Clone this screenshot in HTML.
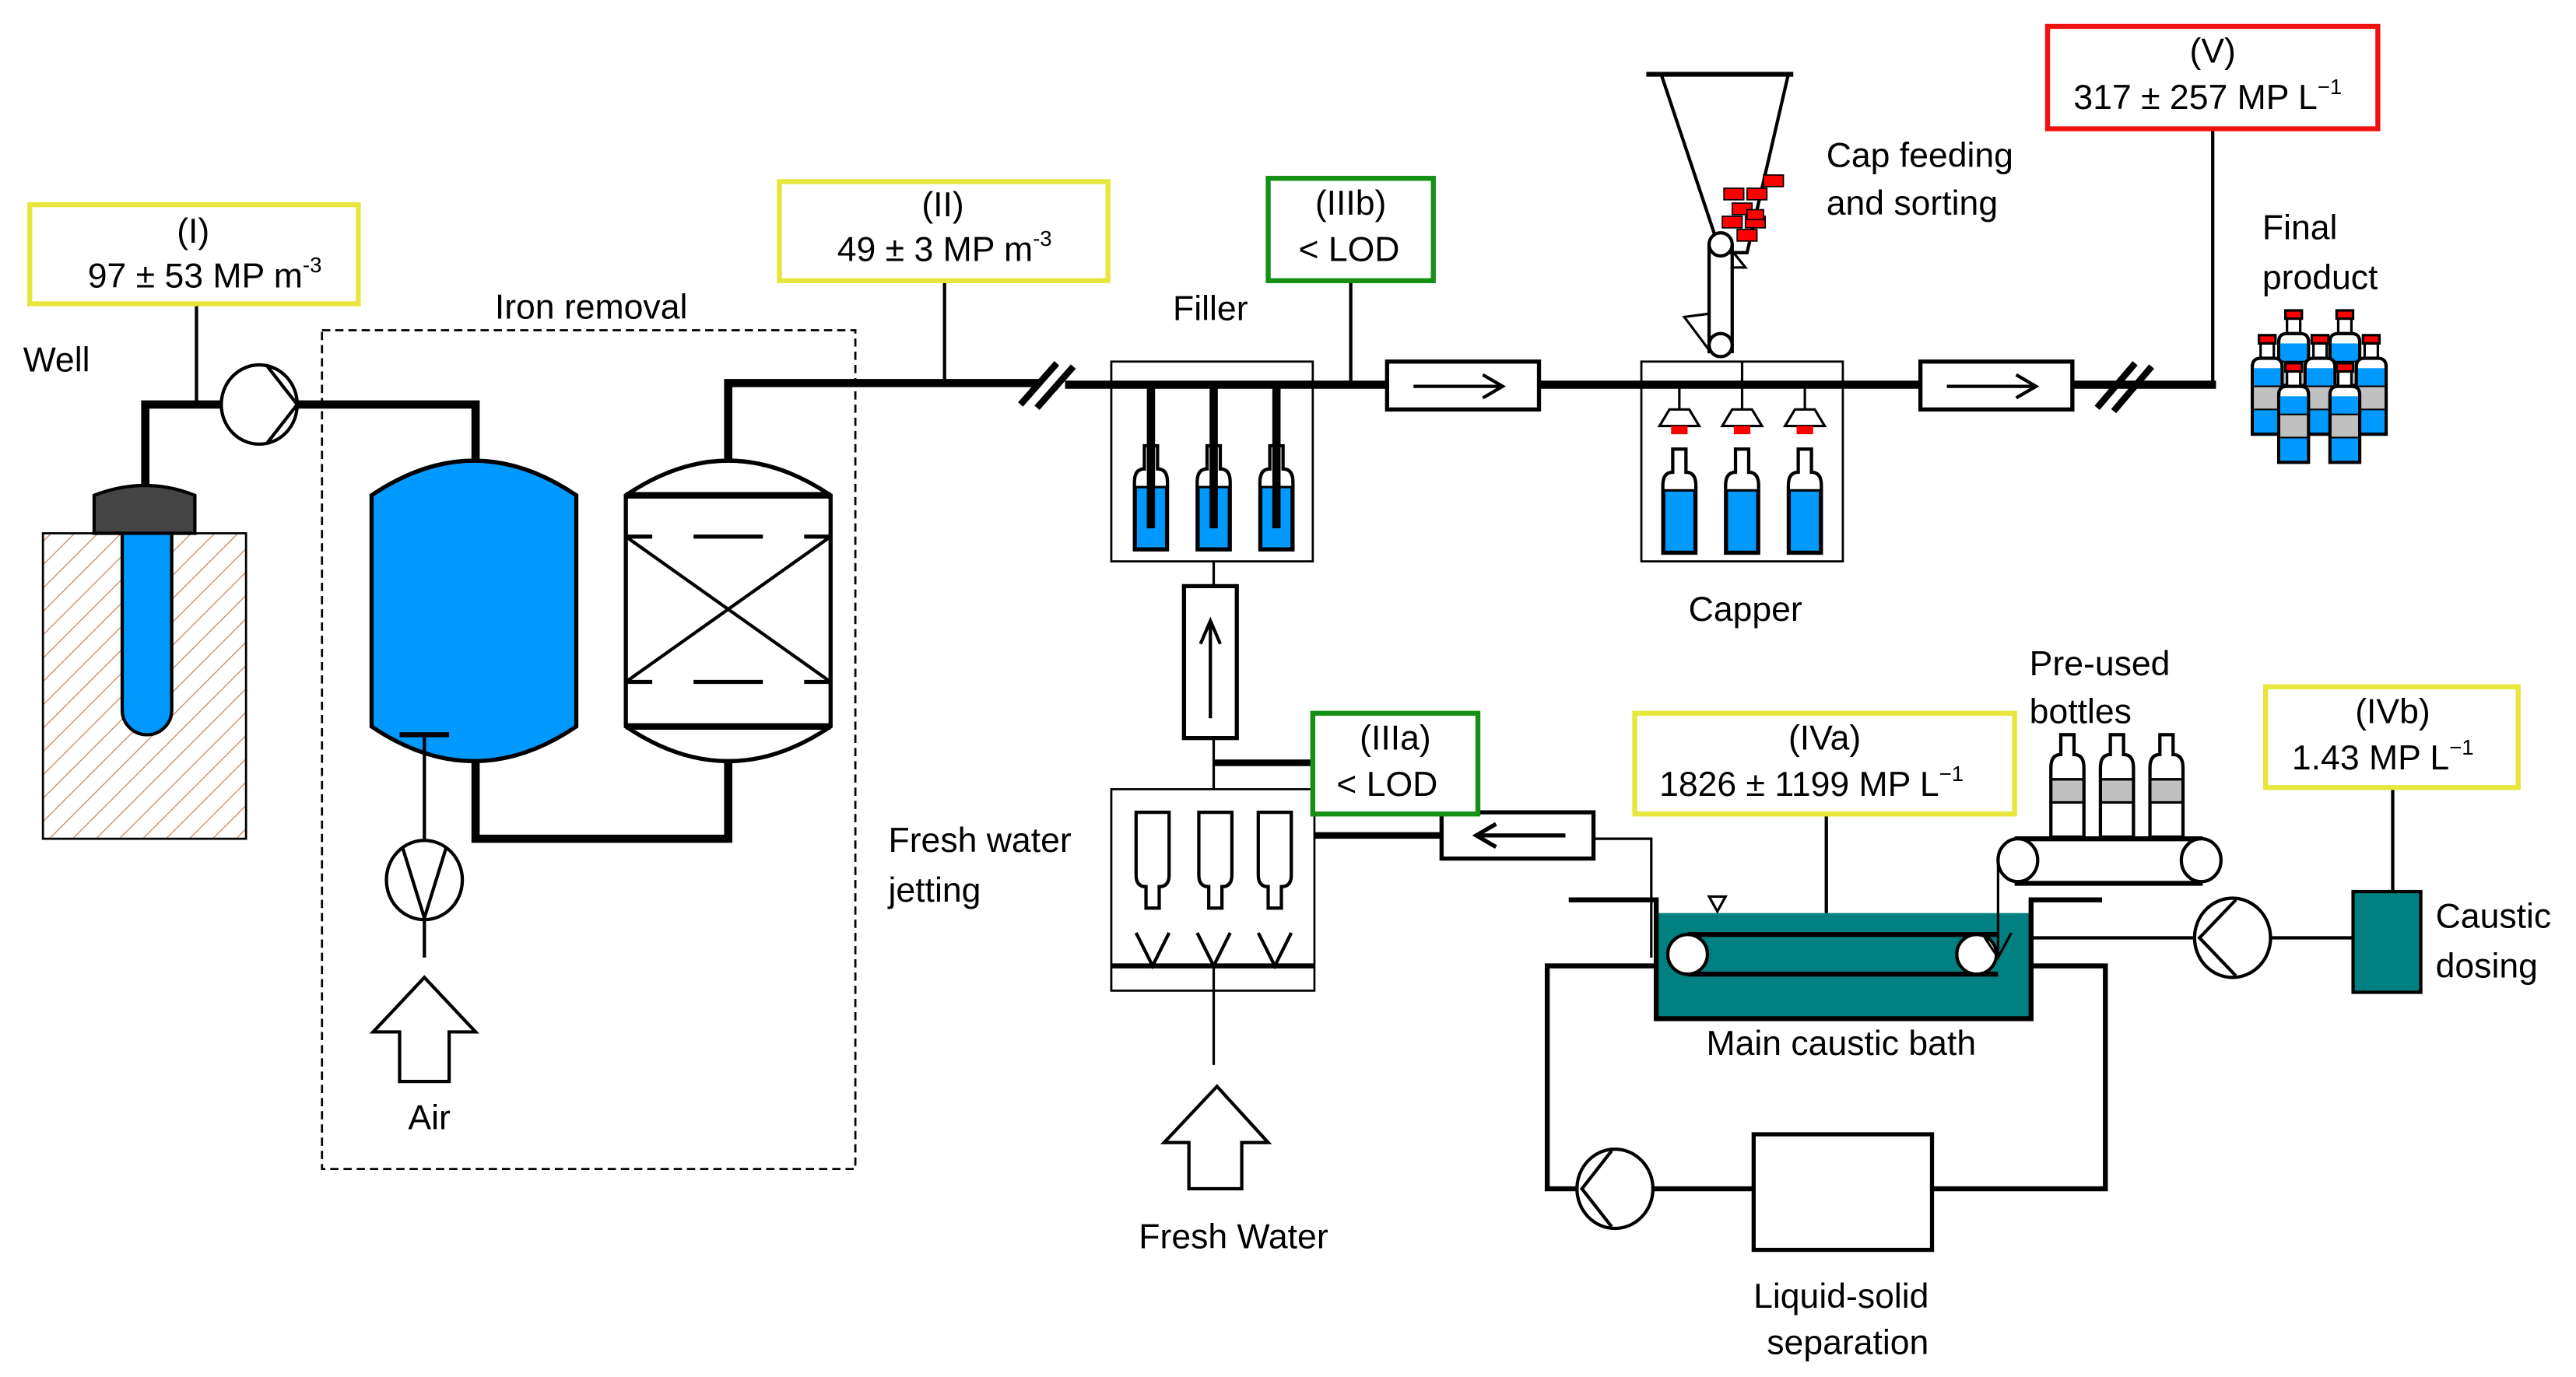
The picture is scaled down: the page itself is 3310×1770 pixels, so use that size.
<!DOCTYPE html>
<html><head><meta charset="utf-8"><style>
html,body{margin:0;padding:0;background:#fff}
svg{display:block}
text{font-family:"Liberation Sans",sans-serif;font-size:21px;fill:#000}
</style></head><body>
<svg width="3310" height="1770" viewBox="0 0 1560 834" preserveAspectRatio="none" xmlns="http://www.w3.org/2000/svg">
<defs>
<pattern id="hatch" width="10" height="10" patternUnits="userSpaceOnUse" patternTransform="rotate(45)">
<line x1="0" y1="0" x2="0" y2="10" stroke="#c8906a" stroke-width="1.3"/>
</pattern>
<g id="fb">
<rect x="-5" y="0" width="10" height="5" fill="#f00" stroke="#000" stroke-width="1.5"/>
<rect x="-4" y="5" width="8" height="9" fill="#fff" stroke="#000" stroke-width="1.5"/>
<path d="M-9,19 Q-9,14 -4,14 L4,14 Q9,14 9,19 L9,60 L-9,60 Z" fill="#fff" stroke="#000" stroke-width="2"/>
<rect x="-8" y="20" width="16" height="11" fill="#09f"/>
<rect x="-8" y="31" width="16" height="14" fill="#c0c0c0"/>
<rect x="-8" y="45" width="16" height="14" fill="#09f"/>
<path d="M-8,31 H8 M-8,45 H8" stroke="#000" stroke-width="1"/>
</g>
<g id="cb">
<path d="M-4,0 H4 V14 Q10,14 10,22 V63 H-10 V22 Q-10,14 -4,14 Z" fill="#fff" stroke="#000" stroke-width="2"/>
<rect x="-9" y="25" width="18" height="37" fill="#09f"/>
<path d="M-10,25 H10" stroke="#000" stroke-width="1.5"/>
</g>
<g id="pb">
<path d="M-4,0 H4 V12 Q10,12 10,20 V62 H-10 V20 Q-10,12 -4,12 Z" fill="#fff" stroke="#000" stroke-width="2"/>
<rect x="-9" y="27" width="18" height="14" fill="#c0c0c0"/>
<path d="M-10,27 H10 M-10,41 H10" stroke="#000" stroke-width="1.5"/>
</g>
</defs>

<g fill="none" stroke="#000">
<!-- well -->
<rect x="26" y="323" width="123" height="185" fill="url(#hatch)" stroke-width="1.3"/>
<path d="M74,323 V430 A15,15 0 0 0 104,430 V323" fill="#09f" stroke-width="2"/>
<path d="M57,323 V300 Q88,288 118,300 V323 Z" fill="#444" stroke-width="2"/>
<!-- pipe well->pump -->
<path d="M88,295 V245 H134" stroke-width="5"/>
<line x1="119" y1="184" x2="119" y2="245" stroke-width="2"/>
<ellipse cx="157" cy="245" rx="23" ry="24" fill="#fff" stroke-width="2"/>
<path d="M162,222 L180,245 L162,268" stroke-width="2"/>
<path d="M180,245 H288 V278" stroke-width="5"/>
<!-- dashed box -->
<rect x="195" y="200" width="323" height="508" stroke-width="1.3" stroke-dasharray="5,3"/>
<!-- blue tank -->
<path d="M225,300 Q287,258 349,300 V440 Q287,482 225,440 Z" fill="#09f" stroke-width="2.5"/>
<line x1="242" y1="445" x2="272" y2="445" stroke-width="3"/>
<line x1="257" y1="445" x2="257" y2="510" stroke-width="2"/>
<ellipse cx="257" cy="533" rx="23" ry="24" fill="#fff" stroke-width="2"/>
<path d="M240,516 L257,510 L274,516 M240,550 L257,557" stroke-width="0"/>
<path d="M244,514 L257,556 L270,514" stroke-width="2" transform="rotate(0)"/>
<line x1="257" y1="557" x2="257" y2="580" stroke-width="2"/>
<path d="M257,592 L288,625 H272 V655 H242 V625 H226 Z" fill="#fff" stroke-width="2"/>
<!-- pipe tank->filter -->
<path d="M288,462 V508 H441 V462" stroke-width="5"/>
<!-- filter -->
<path d="M379,300 Q441,258 503,300 V440 Q441,482 379,440 Z" fill="#fff" stroke-width="2.5"/>
<path d="M379,300 H503 M379,440 H503" stroke-width="4"/>
<path d="M379,325 H395 M420,325 H462 M487,325 H503 M379,413 H395 M420,413 H462 M487,413 H503" stroke-width="2.5"/>
<path d="M379,325 L503,413 M503,325 L379,413" stroke-width="2"/>
<!-- main pipe -->
<path d="M441,278 V232 H630" stroke-width="5"/>
<line x1="572" y1="170" x2="572" y2="232" stroke-width="2"/>
<path d="M618,245 L640,220 M628,247 L650,222" stroke-width="4"/>
<line x1="645" y1="233" x2="840" y2="233" stroke-width="5"/>
<line x1="818" y1="170" x2="818" y2="233" stroke-width="2"/>
<!-- filler -->
<rect x="673" y="219" width="122" height="121" stroke-width="1.3"/>
<use href="#cb" x="697" y="270"/><use href="#cb" x="735" y="270"/><use href="#cb" x="773" y="270"/>
<path d="M697,233 V320 M735,233 V320 M773,233 V320" stroke-width="5"/>
<!-- arrow box 1 -->
<rect x="840" y="219" width="92" height="29" fill="#fff" stroke-width="2.5"/>
<path d="M856,234 H910 M898,227 L910,234 L898,241" stroke-width="2"/>
<line x1="932" y1="233" x2="1163" y2="233" stroke-width="5"/>
<!-- capper -->
<rect x="994" y="219" width="122" height="121" stroke-width="1.3"/>
<path d="M1055,219 V232 M1017,233 V248 M1055,233 V248 M1093,233 V248" stroke-width="1.5"/>
<g stroke-width="1.5" fill="#fff">
<path d="M1011,248 H1023 L1029,258 H1005 Z"/><path d="M1049,248 H1061 L1067,258 H1043 Z"/><path d="M1087,248 H1099 L1105,258 H1081 Z"/>
</g>
<rect x="1012" y="258" width="10" height="5" fill="#f00" stroke="none"/><rect x="1050" y="258" width="10" height="5" fill="#f00" stroke="none"/><rect x="1088" y="258" width="10" height="5" fill="#f00" stroke="none"/>
<use href="#cb" x="1017" y="272"/><use href="#cb" x="1055" y="272"/><use href="#cb" x="1093" y="272"/>
<!-- hopper -->
<line x1="997" y1="45" x2="1086" y2="45" stroke-width="3"/>
<path d="M1006,45 L1042,153 H1058 L1083,45" stroke-width="2"/>
<g fill="#f00" stroke="#000" stroke-width="0.8">
<rect x="1068" y="106" width="12" height="7"/><rect x="1044" y="114" width="12" height="7"/><rect x="1058" y="114" width="12" height="7"/>
<rect x="1049" y="123" width="12" height="7"/><rect x="1043" y="131" width="12" height="7"/><rect x="1057" y="131" width="12" height="7"/>
<rect x="1052" y="139" width="12" height="7"/><rect x="1058" y="127" width="10" height="6"/>
</g>
<path d="M1035,148 V214 M1049,148 V214" stroke-width="2"/>
<circle cx="1042" cy="148" r="7" fill="#fff" stroke-width="2"/>
<circle cx="1042" cy="209" r="7" fill="#fff" stroke-width="2"/>
<path d="M1049,152 L1057,162 H1048" stroke-width="1.5"/>
<path d="M1035,190 L1020,192 L1035,212" stroke-width="1.5"/>
<!-- arrow box 2 -->
<rect x="1163" y="219" width="92" height="29" fill="#fff" stroke-width="2.5"/>
<path d="M1179,234 H1233 M1221,227 L1233,234 L1221,241" stroke-width="2"/>
<line x1="1255" y1="233" x2="1342" y2="233" stroke-width="5"/>
<path d="M1270,247 L1293,220 M1280,249 L1303,222" stroke-width="4"/>
<line x1="1340" y1="78" x2="1340" y2="233" stroke-width="2"/>
</g>
<!-- final product -->
<use href="#fb" x="1389" y="188"/><use href="#fb" x="1420" y="188"/>
<use href="#fb" x="1373" y="203"/><use href="#fb" x="1405" y="203"/><use href="#fb" x="1436" y="203"/>
<use href="#fb" x="1389" y="220"/><use href="#fb" x="1420" y="220"/>

<g fill="none" stroke="#000">
<!-- up arrow box -->
<line x1="735" y1="340" x2="735" y2="355" stroke-width="1.5"/>
<rect x="717" y="355" width="32" height="92" fill="#fff" stroke-width="2.5"/>
<path d="M733,435 V376 M727,390 L733,376 L739,390" stroke-width="2"/>
<line x1="735" y1="447" x2="735" y2="478" stroke-width="1.5"/>
<line x1="735" y1="462" x2="796" y2="462" stroke-width="4"/>
<!-- jetting -->
<rect x="673" y="478" width="123" height="122" stroke-width="1.3"/>
<g stroke-width="2" fill="#fff">
<path d="M688,492 H708 V530 Q708,537 702,537 V550 H694 V537 Q688,537 688,530 Z"/>
<path d="M726,492 H746 V530 Q746,537 740,537 V550 H732 V537 Q726,537 726,530 Z"/>
<path d="M762,492 H782 V530 Q782,537 776,537 V550 H768 V537 Q762,537 762,530 Z"/>
</g>
<path d="M688,565 L698,585 L708,565 M725,565 L735,585 L745,565 M762,565 L772,585 L782,565" stroke-width="2"/>
<line x1="673" y1="585" x2="796" y2="585" stroke-width="3"/>
<line x1="735" y1="585" x2="735" y2="645" stroke-width="1.5"/>
<path d="M737,658 L768,692 H752 V720 H720 V692 H705 Z" fill="#fff" stroke-width="2"/>
<!-- arrow left box -->
<line x1="796" y1="506" x2="873" y2="506" stroke-width="4"/>
<rect x="873" y="492" width="92" height="28" fill="#fff" stroke-width="2.5"/>
<path d="M948,506 H894 M906,499 L894,506 L906,513" stroke-width="2.5"/>
<path d="M965,508 H1000 V580" stroke-width="1.5"/>
<!-- bath -->
<rect x="1003" y="553" width="227" height="64" fill="#008080" stroke="none"/>
<path d="M950,545 H1003 V617 H1230 V545 H1273" stroke-width="3"/>
<path d="M1003,585 H937 V720 H955" stroke-width="3"/>
<ellipse cx="978" cy="720" rx="23" ry="24" fill="#fff" stroke-width="2"/>
<path d="M976,697 L958,720 L976,743" stroke-width="2"/>
<path d="M1001,720 H1062 M1170,720 H1275 V585 H1230" stroke-width="3"/>
<rect x="1062" y="687" width="108" height="70" fill="#fff" stroke-width="2.5"/>
<path d="M1022,566 H1210 M1022,590 H1210" stroke-width="3"/>
<ellipse cx="1022" cy="578" rx="12" ry="12" fill="#fff" stroke-width="2"/>
<ellipse cx="1197" cy="578" rx="12" ry="12" fill="#fff" stroke-width="2"/>
<path d="M1035,543 H1045 L1040,552 Z" stroke-width="1.5"/>
<line x1="1106" y1="493" x2="1106" y2="553" stroke-width="2"/>
<!-- pre-used conveyor -->
<path d="M1220,508 H1334 M1220,535 H1334" stroke-width="3"/>
<ellipse cx="1222" cy="521" rx="12" ry="13" fill="#fff" stroke-width="2"/>
<ellipse cx="1333" cy="521" rx="12" ry="13" fill="#fff" stroke-width="2"/>
<path d="M1210,521 V580 M1202,568 L1210,580 L1218,565" stroke-width="1.5"/>
<line x1="1230" y1="568" x2="1330" y2="568" stroke-width="2"/>
<ellipse cx="1352" cy="568" rx="23" ry="24" fill="#fff" stroke-width="2"/>
<path d="M1354,545 L1332,568 L1354,591" stroke-width="2"/>
<line x1="1375" y1="568" x2="1425" y2="568" stroke-width="2"/>
<rect x="1425" y="540" width="41" height="61" fill="#008080" stroke-width="2"/>
<line x1="1449" y1="477" x2="1449" y2="540" stroke-width="2"/>
</g>
<use href="#pb" x="1252" y="445"/><use href="#pb" x="1282" y="445"/><use href="#pb" x="1312" y="445"/>

<!-- label boxes -->
<g fill="#fff" stroke-width="3">
<rect x="18" y="124" width="199" height="60" stroke="#e6e63c"/>
<rect x="472" y="110" width="199" height="60" stroke="#e6e63c"/>
<rect x="768" y="108" width="100" height="62" stroke="#149014"/>
<rect x="1240" y="16" width="200" height="62" stroke="#f01010"/>
<rect x="795" y="432" width="100" height="61" stroke="#149014"/>
<rect x="990" y="432" width="230" height="61" stroke="#e6e63c"/>
<rect x="1372" y="416" width="153" height="61" stroke="#e6e63c"/>
</g>
<g text-anchor="middle">
<text x="117" y="147">(I)</text><text x="124" y="174">97 ± 53 MP m<tspan font-size="13" dy="-9">-3</tspan></text>
<text x="571" y="131">(II)</text><text x="572" y="158">49 ± 3 MP m<tspan font-size="13" dy="-9">-3</tspan></text>
<text x="818" y="130">(IIIb)</text><text x="817" y="158">&lt; LOD</text>
<text x="1340" y="38">(V)</text><text x="1337" y="66">317 ± 257 MP L<tspan font-size="13" dy="-9">−1</tspan></text>
<text x="845" y="454">(IIIa)</text><text x="840" y="482">&lt; LOD</text>
<text x="1105" y="454">(IVa)</text><text x="1097" y="482">1826 ± 1199 MP L<tspan font-size="13" dy="-9">−1</tspan></text>
<text x="1449" y="438">(IVb)</text><text x="1443" y="466">1.43 MP L<tspan font-size="13" dy="-9">−1</tspan></text>
<text x="358" y="193">Iron removal</text>
<text x="733" y="194">Filler</text>
<text x="1057" y="376">Capper</text>
<text x="260" y="684">Air</text>
<text x="747" y="756">Fresh Water</text>
<text x="1115" y="639">Main caustic bath</text>
<text x="1115" y="792">Liquid-solid</text><text x="1119" y="820">separation</text>
</g>
<text x="14" y="225">Well</text>
<text x="1106" y="101">Cap feeding</text><text x="1106" y="130">and sorting</text>
<text x="1370" y="145">Final</text><text x="1370" y="175">product</text>
<text x="538" y="516">Fresh water</text><text x="538" y="546">jetting</text>
<text x="1229" y="409">Pre-used</text><text x="1229" y="438">bottles</text>
<text x="1475" y="562">Caustic</text><text x="1475" y="592">dosing</text>
</svg>
</body></html>
